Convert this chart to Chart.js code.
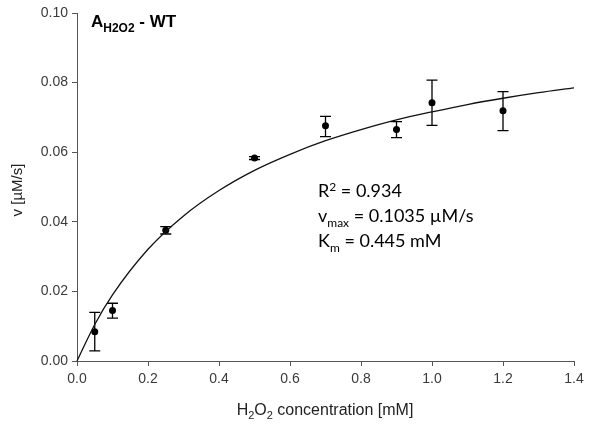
<!DOCTYPE html>
<html>
<head>
<meta charset="utf-8">
<script src="https://cdn.jsdelivr.net/npm/chart.js@4.4.1/dist/chart.umd.min.js"></script>
<style>
  html, body { margin: 0; padding: 0; background: #fff; }
  #wrap { position: relative; width: 590px; height: 425px; }
</style>
</head>
<body>
<div id="wrap"><canvas id="myChart" width="590" height="425"></canvas></div>
<script>
// measured rates: H2O2 concentration (mM) -> v (µM/s), with error bar ends
const concValues = [0.05, 0.1, 0.25, 0.5, 0.7, 0.9, 1.0, 1.2];
const rateValues = [0.0084, 0.0145, 0.0376, 0.0583, 0.0676, 0.0665, 0.0742, 0.0719];
const errLow = [0.0029, 0.0123, 0.0365, 0.0579, 0.0645, 0.0642, 0.0677, 0.0662];
const errHigh = [0.0140, 0.0166, 0.0386, 0.0587, 0.0703, 0.0688, 0.0807, 0.0774];

// fitted curve
const fitX = [0, 0.05, 0.1, 0.2, 0.3, 0.4, 0.5, 0.6, 0.7, 0.8, 0.9, 1.0, 1.1, 1.2, 1.3, 1.4];
const fitY = [0, 0.0105, 0.0190, 0.0321, 0.0417, 0.0490, 0.0548, 0.0594, 0.0633, 0.0665, 0.0693, 0.0716, 0.0737, 0.0755, 0.0771, 0.0785];

const xTicks = [0, 0.2, 0.4, 0.6, 0.8, 1.0, 1.2, 1.4];
const yTicks = [0, 0.02, 0.04, 0.06, 0.08, 0.10];

const fitLines = [
  [{ t: 'R' }, { t: '2', sup: true }, { t: ' = 0.934' }],
  [{ t: 'v' }, { t: 'max', sub: true }, { t: ' = 0.1035 µM/s' }],
  [{ t: 'K' }, { t: 'm', sub: true }, { t: ' = 0.445 mM' }]
];

const axisColor = '#555555';
const tickColor = '#3a3a3a';

// draws a row of text pieces, with sub/superscripts
function drawPieces(ctx, pieces, x, y, font, size, weight, align) {
  const big = weight + ' ' + size + 'px ' + font;
  const small = weight + ' ' + Math.round(size * 0.68) + 'px ' + font;
  let total = 0;
  pieces.forEach(p => {
    ctx.font = (p.sub || p.sup) ? small : big;
    total += ctx.measureText(p.t).width;
  });
  let cx = align === 'center' ? x - total / 2 : x;
  ctx.textAlign = 'left';
  ctx.textBaseline = 'alphabetic';
  pieces.forEach(p => {
    ctx.font = (p.sub || p.sup) ? small : big;
    let dy = 0;
    if (p.sub) dy = size * 0.28;
    if (p.sup) dy = -size * 0.36;
    ctx.fillText(p.t, cx, y + dy);
    cx += ctx.measureText(p.t).width;
  });
}

const extrasPlugin = {
  id: 'extras',
  beforeDatasetsDraw(chart) {
    // error bars
    const ctx = chart.ctx;
    const xs = chart.scales.x, ys = chart.scales.y;
    ctx.save();
    ctx.strokeStyle = '#000';
    ctx.lineWidth = 1.3;
    concValues.forEach((c, i) => {
      const px = xs.getPixelForValue(c);
      const top = ys.getPixelForValue(errHigh[i]);
      const bot = ys.getPixelForValue(errLow[i]);
      ctx.beginPath();
      ctx.moveTo(px, top); ctx.lineTo(px, bot);
      ctx.moveTo(px - 5.5, top); ctx.lineTo(px + 5.5, top);
      ctx.moveTo(px - 5.5, bot); ctx.lineTo(px + 5.5, bot);
      ctx.stroke();
    });
    ctx.restore();
  },
  afterDraw(chart) {
    const ctx = chart.ctx;
    ctx.save();
    ctx.fillStyle = '#000';
    // panel title
    drawPieces(ctx, [{ t: 'A' }, { t: 'H2O2', sub: true }, { t: ' - WT' }], 91, 27, '"Liberation Sans", Arial', 17, 'bold', 'left');
    // fit results
    fitLines.forEach((line, i) => {
      drawPieces(ctx, line, 318, 197 + i * 25, 'Lato, "Open Sans", sans-serif', 18, 'normal', 'left');
    });
    // axis titles
    ctx.fillStyle = '#222';
    drawPieces(ctx, [{ t: 'H' }, { t: '2', sub: true }, { t: 'O' }, { t: '2', sub: true }, { t: ' concentration [mM]' }],
      325, 415, '"Liberation Sans", Arial', 16, 'normal', 'center');
    ctx.translate(22, 190);
    ctx.rotate(-Math.PI / 2);
    drawPieces(ctx, [{ t: 'v [µM/s]' }], 0, 0, '"Liberation Sans", Arial', 15, 'normal', 'center');
    ctx.restore();
  }
};

const scalesConfig = {
  x: {
    type: 'linear',
    min: 0,
    max: 1.4,
    afterBuildTicks: s => { s.ticks = xTicks.map(v => ({ value: v })); },
    afterFit: s => { s.height = 64; },
    border: { display: true, color: axisColor, width: 1 },
    grid: { display: true, drawOnChartArea: false, drawTicks: true, tickLength: 5, color: axisColor },
    ticks: {
      color: tickColor,
      padding: 5,
      font: { family: '"Liberation Sans", Arial', size: 14 },
      callback: v => Number(v).toFixed(1)
    }
  },
  y: {
    type: 'linear',
    min: 0,
    max: 0.1,
    afterBuildTicks: s => { s.ticks = yTicks.map(v => ({ value: v })); },
    afterFit: s => { s.width = 77; },
    border: { display: true, color: axisColor, width: 1 },
    grid: { display: true, drawOnChartArea: false, drawTicks: true, tickLength: 5, color: axisColor },
    ticks: {
      color: tickColor,
      padding: 4,
      font: { family: '"Liberation Sans", Arial', size: 14 },
      callback: v => Number(v).toFixed(2)
    }
  }
};

const globalConfig = {
  type: 'scatter',
  data: {
    datasets: [
      {
        label: 'fit',
        data: fitX.map((x, i) => ({ x: x, y: fitY[i] })),
        showLine: true,
        borderColor: '#111',
        borderWidth: 1.3,
        pointRadius: 0,
        cubicInterpolationMode: 'monotone',
        clip: false
      },
      {
        label: 'v',
        data: concValues.map((x, i) => ({ x: x, y: rateValues[i] })),
        backgroundColor: '#000',
        borderColor: '#000',
        pointRadius: 3.5,
        borderWidth: 0,
        clip: false
      }
    ]
  },
  options: {
    responsive: false,
    animation: false,
    layout: { padding: { left: 0, top: 13, right: 16, bottom: 0 } },
    scales: scalesConfig,
    plugins: {
      legend: { display: false },
      tooltip: { enabled: false }
    }
  },
  plugins: [extrasPlugin]
};

new Chart(document.getElementById('myChart'), globalConfig);
</script>
</body>
</html>
